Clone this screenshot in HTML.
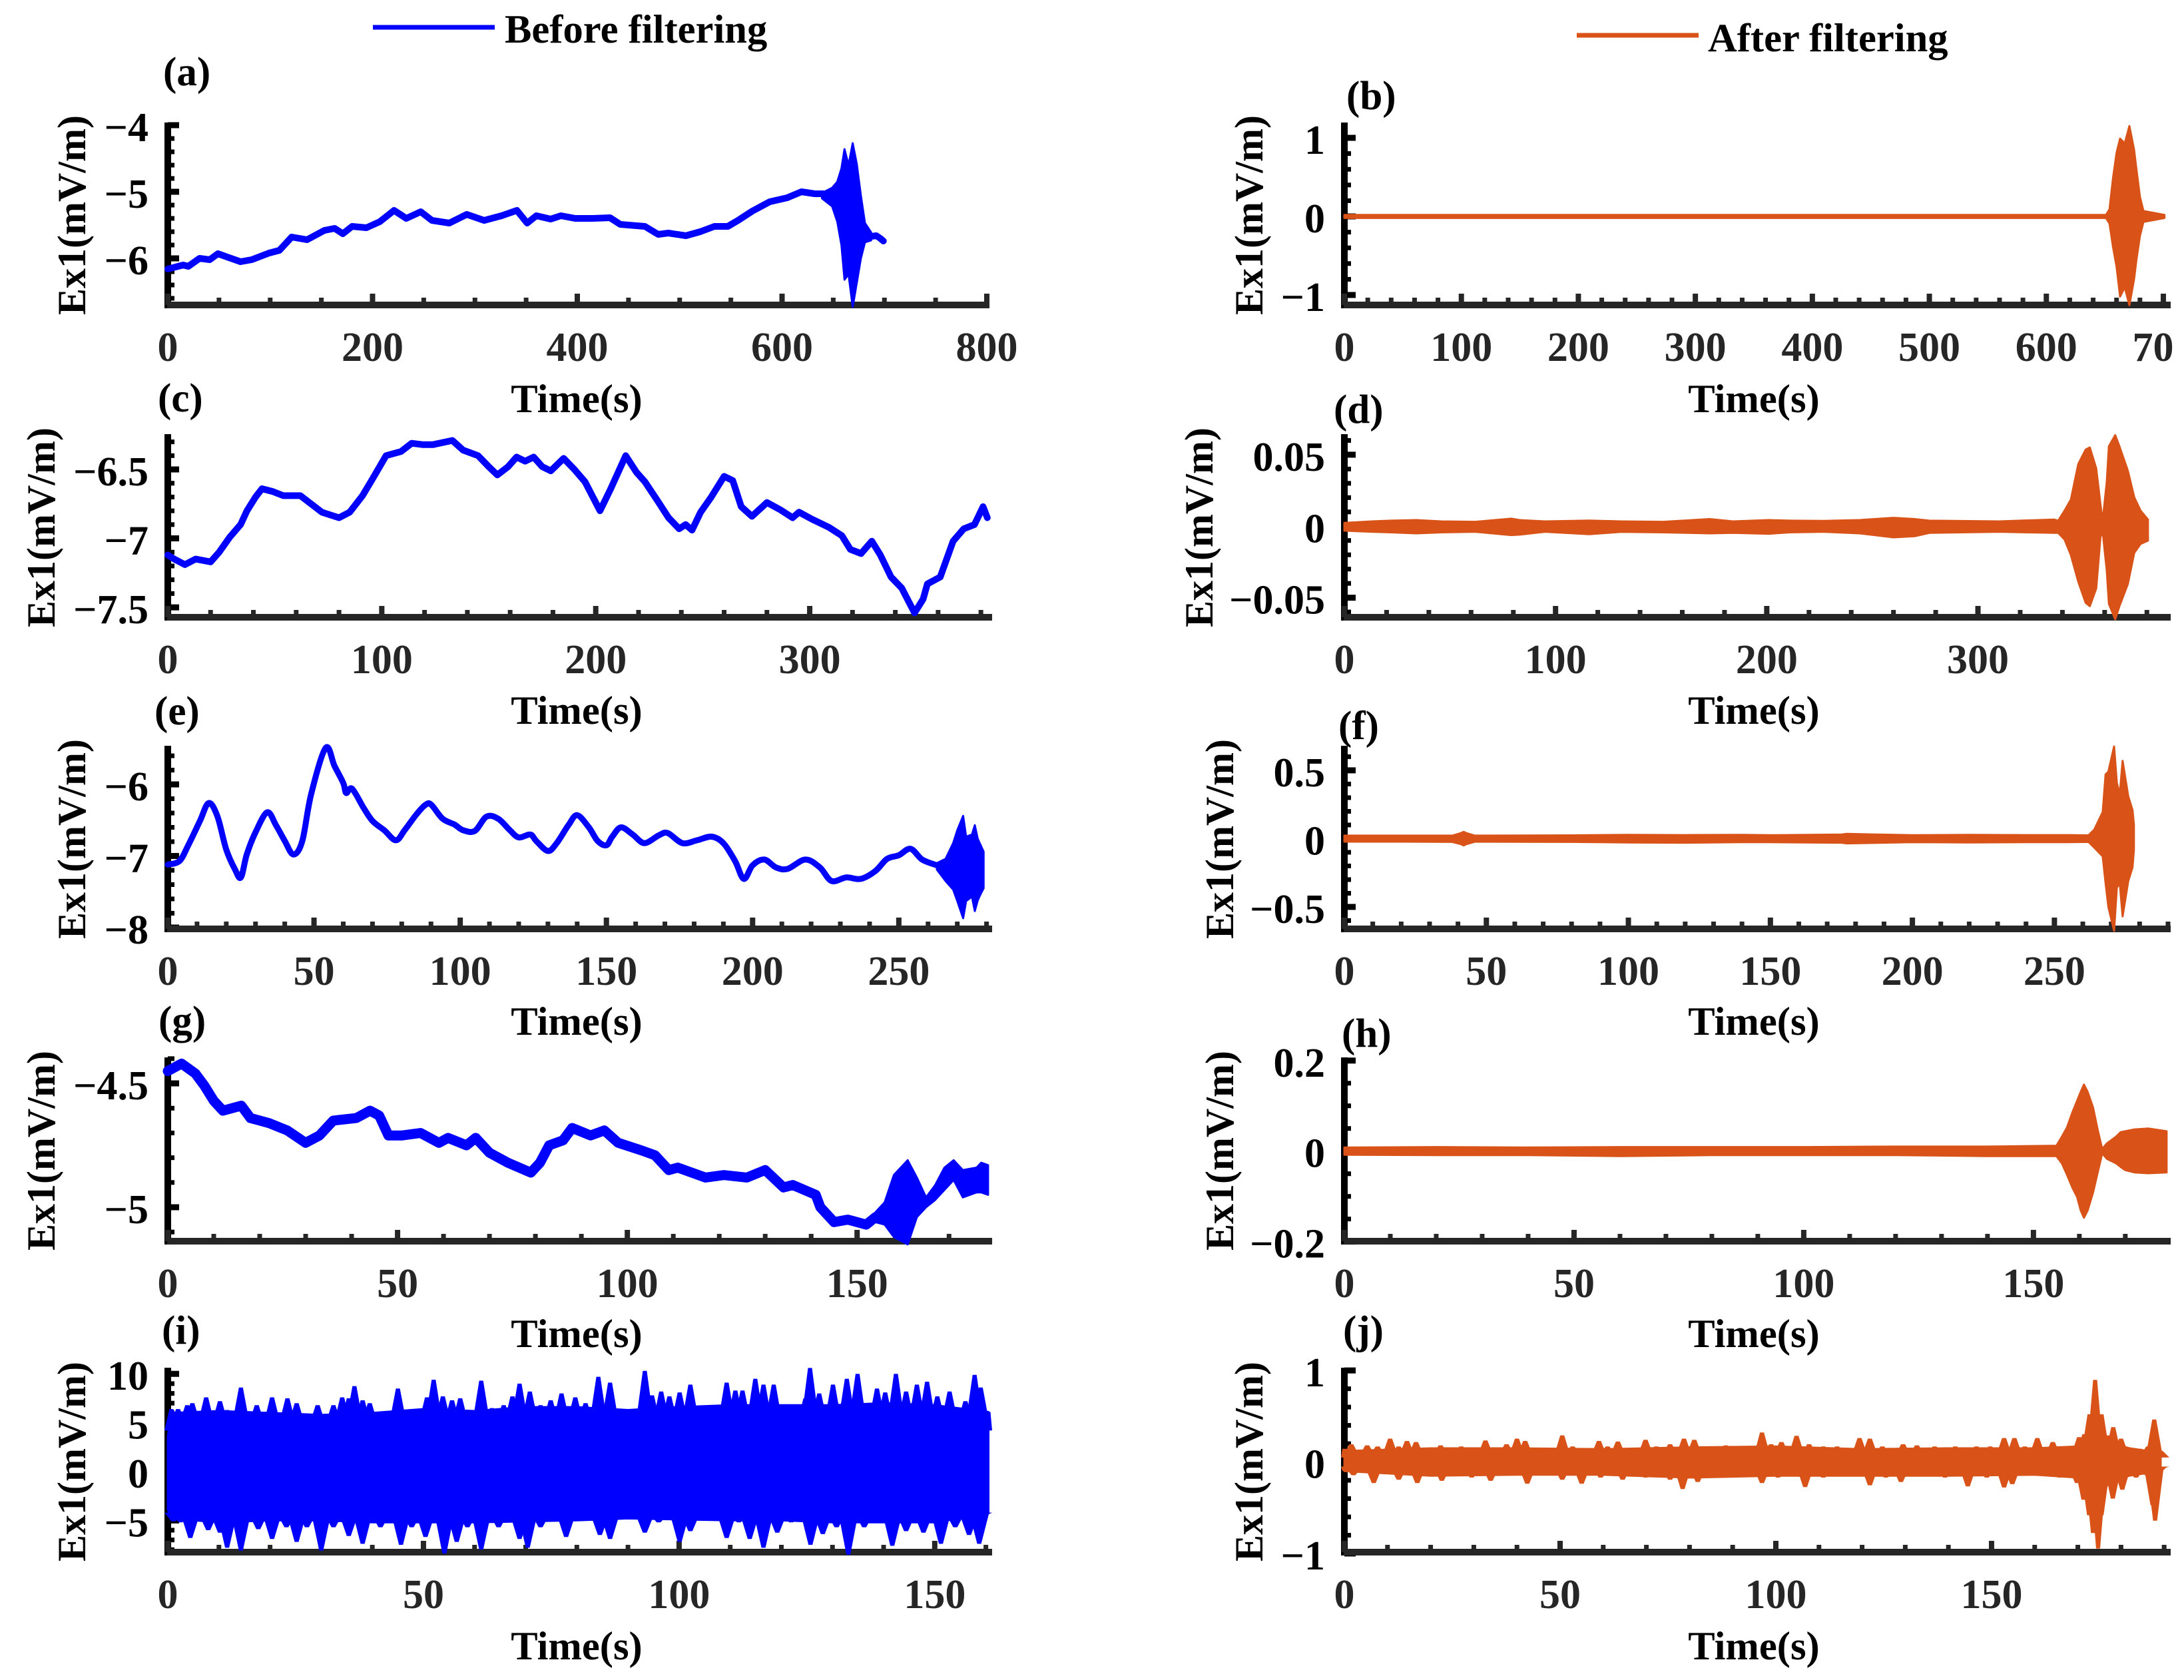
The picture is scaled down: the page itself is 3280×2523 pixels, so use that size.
<!DOCTYPE html>
<html>
<head>
<meta charset="utf-8">
<title>Ex1 before and after filtering</title>
<style>
html,body{margin:0;padding:0;background:#fff;}
body{width:3280px;height:2523px;overflow:hidden;}
svg{display:block;}
text{font-family:"Liberation Serif",serif;font-weight:bold;font-size:60.6px;fill:#000;}
.lab{font-size:61px;}
.tx{text-anchor:middle;fill:#000;}
.yl{text-anchor:middle;font-size:60px;}
.tick{font-size:62px;}
</style>
</head>
<body>
<svg xmlns="http://www.w3.org/2000/svg" width="3280" height="2523" viewBox="0 0 3280 2523">
<defs><clipPath id="right-edge-clip"><rect x="1900" y="0" width="1365" height="2523"/></clipPath></defs>
<rect x="0" y="0" width="3280" height="2523" fill="#fff"/>

<g>
<line x1="560" x2="743" y1="41" y2="41" stroke="#0000FF" stroke-width="7"/>
<text x="758" y="64">Before filtering</text>
</g>
<g>
<line x1="2368" x2="2551" y1="53" y2="53" stroke="#D95319" stroke-width="7"/>
<text x="2565" y="77">After filtering</text>
</g>

<g id="panel-a"></g>
<g id="panel-b"></g>
<g id="panel-c"></g>
<g id="panel-d"></g>
<g id="panel-e"></g>
<g id="panel-f"></g>
<g id="panel-g"></g>
<g id="panel-h"></g>
<g id="panel-i"></g>
<g id="panel-j"></g>

<text class="lab" x="245" y="128">(a)</text>
<text class="lab" x="2022" y="164">(b)</text>
<text class="lab" x="237" y="618">(c)</text>
<text class="lab" x="2003" y="635">(d)</text>
<text class="lab" x="232" y="1088">(e)</text>
<text class="lab" x="2010" y="1110">(f)</text>
<text class="lab" x="238" y="1553">(g)</text>
<text class="lab" x="2015" y="1572">(h)</text>
<text class="lab" x="243" y="2018">(i)</text>
<text class="lab" x="2017" y="2018">(j)</text>

<text class="tx" x="866" y="619">Time(s)</text>
<text class="tx" x="2634" y="619">Time(s)</text>
<text class="tx" x="866" y="1087">Time(s)</text>
<text class="tx" x="2634" y="1087">Time(s)</text>
<text class="tx" x="866" y="1554">Time(s)</text>
<text class="tx" x="2634" y="1554">Time(s)</text>
<text class="tx" x="866" y="2023">Time(s)</text>
<text class="tx" x="2634" y="2023">Time(s)</text>
<text class="tx" x="866" y="2492">Time(s)</text>
<text class="tx" x="2634" y="2492">Time(s)</text>

<text class="yl" transform="translate(128,323) rotate(-90)">Ex1(mV/m)</text>
<text class="yl" transform="translate(1896,323) rotate(-90)">Ex1(mV/m)</text>
<text class="yl" transform="translate(82,792) rotate(-90)">Ex1(mV/m)</text>
<text class="yl" transform="translate(1821,792) rotate(-90)">Ex1(mV/m)</text>
<text class="yl" transform="translate(128,1260) rotate(-90)">Ex1(mV/m)</text>
<text class="yl" transform="translate(1852,1260) rotate(-90)">Ex1(mV/m)</text>
<text class="yl" transform="translate(82,1728) rotate(-90)">Ex1(mV/m)</text>
<text class="yl" transform="translate(1852,1728) rotate(-90)">Ex1(mV/m)</text>
<text class="yl" transform="translate(128,2195) rotate(-90)">Ex1(mV/m)</text>
<text class="yl" transform="translate(1896,2195) rotate(-90)">Ex1(mV/m)</text>
</svg>

<script>
/* ---------- tick values and labels ---------- */
const aXTicks=[0,200,400,600,800];
const aXLabels=['0','200','400','600','800'];
const aYTicks=[-6,-5,-4];
const aYLabels=['−6','−5','−4'];
const bXTicks=[0,100,200,300,400,500,600,700];
const bXLabels=['0','100','200','300','400','500','600','700'];
const bYTicks=[-1,0,1];
const bYLabels=['−1','0','1'];
const cXTicks=[0,100,200,300];
const cXLabels=['0','100','200','300'];
const cYTicks=[-7.5,-7,-6.5];
const cYLabels=['−7.5','−7','−6.5'];
const dXTicks=[0,100,200,300];
const dXLabels=['0','100','200','300'];
const dYTicks=[-0.05,0,0.05];
const dYLabels=['−0.05','0','0.05'];
const eXTicks=[0,50,100,150,200,250];
const eXLabels=['0','50','100','150','200','250'];
const eYTicks=[-8,-7,-6];
const eYLabels=['−8','−7','−6'];
const fXTicks=[0,50,100,150,200,250];
const fXLabels=['0','50','100','150','200','250'];
const fYTicks=[-0.5,0,0.5];
const fYLabels=['−0.5','0','0.5'];
const gXTicks=[0,50,100,150];
const gXLabels=['0','50','100','150'];
const gYTicks=[-5,-4.5];
const gYLabels=['−5','−4.5'];
const hXTicks=[0,50,100,150];
const hXLabels=['0','50','100','150'];
const hYTicks=[-0.2,0,0.2];
const hYLabels=['−0.2','0','0.2'];
const iXTicks=[0,50,100,150];
const iXLabels=['0','50','100','150'];
const iYTicks=[-5,0,5,10];
const iYLabels=['−5','0','5','10'];
const jXTicks=[0,50,100,150];
const jXLabels=['0','50','100','150'];
const jYTicks=[-1,0,1];
const jYLabels=['−1','0','1'];

/* ---------- panel a: trend line and burst envelope ---------- */
const aTime=[0,10,15,20,31,41,49,58,71,82,99,109,121,136,153,163,171,180,194,207,221,233,247,258,275,292,309,326,341,351,360,374,384,398,415,432,442,466,479,489,506,520,534,547,557,571,588,605,619,632,646];
const aValue=[-6.16,-6.12,-6.10,-6.12,-6.00,-6.02,-5.93,-5.98,-6.05,-6.02,-5.92,-5.88,-5.68,-5.72,-5.58,-5.55,-5.63,-5.52,-5.54,-5.45,-5.28,-5.40,-5.30,-5.43,-5.47,-5.34,-5.43,-5.36,-5.28,-5.47,-5.36,-5.41,-5.36,-5.40,-5.40,-5.39,-5.49,-5.52,-5.64,-5.62,-5.66,-5.60,-5.52,-5.52,-5.43,-5.29,-5.15,-5.09,-5.00,-5.03,-5.03];
const aTailTime=[687,692,696,699];
const aTailValue=[-5.67,-5.66,-5.70,-5.74];
const aBurstTime=[639,649,654,658,661,665,669,673,677,681,687];
const aBurstUpper=[-5.02,-4.94,-4.85,-4.65,-4.36,-4.60,-4.27,-4.58,-5.06,-5.47,-5.61];
const aBurstLower=[-5.10,-5.22,-5.45,-5.80,-6.32,-6.24,-6.73,-6.37,-6.00,-5.76,-5.73];

/* ---------- panel b ---------- */
const bTime=[0,651,654,657,660,663,667,671,675,677,680,683,701];
const bUpper=[0.02,0.02,0.09,0.49,0.81,0.99,0.93,1.15,0.85,0.60,0.25,0.07,0.02];
const bLower=[-0.02,-0.02,-0.09,-0.39,-0.64,-1.02,-0.90,-1.13,-0.80,-0.55,-0.25,-0.07,-0.02];

/* ---------- panel c ---------- */
const cTime=[0,3,8,13,20,24,29,34,37,41,44,49,54,62,67,72,80,85,91,96,102,109,114,119,124,133,138,145,150,154,159,163,167,171,175,179,185,190,195,200,202,207,214,219,223,229,234,239,242,245,249,254,260,264,268,273,280,286,292,295,301,309,315,319,324,329,333,338,343,349,353,355,361,367,372,377,381,383];
const cValue=[-7.12,-7.15,-7.19,-7.15,-7.17,-7.10,-6.99,-6.90,-6.80,-6.70,-6.64,-6.66,-6.69,-6.69,-6.75,-6.81,-6.85,-6.81,-6.69,-6.56,-6.40,-6.37,-6.31,-6.32,-6.32,-6.29,-6.36,-6.40,-6.48,-6.54,-6.48,-6.41,-6.44,-6.41,-6.48,-6.51,-6.42,-6.50,-6.59,-6.74,-6.80,-6.64,-6.40,-6.52,-6.59,-6.73,-6.85,-6.93,-6.90,-6.94,-6.81,-6.70,-6.55,-6.58,-6.77,-6.84,-6.74,-6.79,-6.85,-6.81,-6.86,-6.92,-6.98,-7.08,-7.11,-7.02,-7.12,-7.28,-7.36,-7.54,-7.44,-7.33,-7.28,-7.02,-6.93,-6.90,-6.77,-6.85];

/* ---------- panel d ---------- */
const dTime=[0,13,22,34,46,62,79,83,95,116,131,151,173,184,201,211,227,244,260,270,277,310,336,338,341,344,347.5,351,353,356,358,359,361,362,365,367,371,374,377,380.5];
const dUpper=[0.0023,0.0034,0.0039,0.0043,0.0034,0.0031,0.0053,0.0043,0.0034,0.0040,0.0034,0.0031,0.0050,0.0034,0.0043,0.0039,0.0037,0.0043,0.0059,0.0050,0.0039,0.0034,0.0047,0.0039,0.0109,0.0186,0.0435,0.0536,0.0551,0.0404,0.0155,0.0031,0.0311,0.0559,0.0637,0.0559,0.0388,0.0202,0.0109,0.0047];
const dLower=[-0.0031,-0.0039,-0.0043,-0.0050,-0.0043,-0.0039,-0.0062,-0.0059,-0.0039,-0.0056,-0.0040,-0.0043,-0.0050,-0.0047,-0.0053,-0.0043,-0.0039,-0.0050,-0.0078,-0.0070,-0.0047,-0.0039,-0.0047,-0.0047,-0.0093,-0.0202,-0.0388,-0.0536,-0.0559,-0.0435,-0.0078,-0.0031,-0.0311,-0.0543,-0.0652,-0.0559,-0.0404,-0.0186,-0.0124,-0.0101];

/* ---------- panel e ---------- */
const eTime=[0,4,7,11,14,17,20,23,25,27,30,34,37,40,43,46,49,54,57,60,61,63,67,70,74,78,81,85,88,90,94,98,101,105,109,113,117,120,124,126,130,133,137,140,144,147,150,152,155,159,163,168,171,176,181,186,190,194,197,200,204,208,212,218,223,227,232,237,242,246,250,254,258,263];
const eValue=[-7.12,-7.07,-6.85,-6.51,-6.26,-6.45,-6.91,-7.19,-7.30,-6.98,-6.67,-6.39,-6.57,-6.79,-6.98,-6.79,-6.14,-5.49,-5.74,-5.98,-6.12,-6.06,-6.33,-6.51,-6.64,-6.78,-6.64,-6.42,-6.29,-6.28,-6.48,-6.56,-6.64,-6.65,-6.45,-6.48,-6.64,-6.74,-6.70,-6.79,-6.93,-6.82,-6.57,-6.43,-6.60,-6.79,-6.85,-6.73,-6.60,-6.70,-6.82,-6.71,-6.68,-6.82,-6.78,-6.73,-6.82,-7.07,-7.32,-7.13,-7.05,-7.16,-7.18,-7.05,-7.16,-7.35,-7.30,-7.32,-7.21,-7.04,-6.99,-6.90,-7.05,-7.13];
const eBurstTime=[263,266,268.6,270,272,273,275,276,277,278,279];
const eBurstUpper=[-7.10,-7.04,-6.82,-6.64,-6.44,-6.73,-6.70,-6.57,-6.76,-6.85,-6.94];
const eBurstLower=[-7.19,-7.35,-7.47,-7.63,-7.87,-7.63,-7.57,-7.77,-7.62,-7.53,-7.45];

/* ---------- panel f ---------- */
const fTime=[0,20,38,41,42,43,46,80,100,120,140,150,175,177,200,220,240,255,262,264,267,268,269,271,272,273,274,276,277.5,278];
const fUpper=[0.022,0.022,0.022,0.04,0.05,0.04,0.022,0.024,0.028,0.026,0.028,0.025,0.03,0.035,0.025,0.028,0.026,0.026,0.024,0.065,0.195,0.47,0.49,0.675,0.407,0.325,0.57,0.31,0.21,0.10];
const fLower=[-0.022,-0.022,-0.024,-0.04,-0.05,-0.04,-0.022,-0.024,-0.028,-0.03,-0.026,-0.026,-0.03,-0.035,-0.026,-0.028,-0.026,-0.026,-0.024,-0.065,-0.13,-0.325,-0.50,-0.675,-0.358,-0.325,-0.57,-0.31,-0.21,-0.08];

/* ---------- panel g ---------- */
const gTime=[0,3,6,8,10,12,16,18,22,26,30,33,36,41,44,46,48,51,55,59,61,65,67,70,74,79,81,83,86,88,92,95,98,103,106,109,111,117,121,126,130,134,136,141,142,145,148,152,154];
const gValue=[-4.45,-4.42,-4.46,-4.51,-4.57,-4.61,-4.59,-4.64,-4.66,-4.69,-4.74,-4.71,-4.65,-4.64,-4.61,-4.63,-4.71,-4.71,-4.70,-4.74,-4.72,-4.75,-4.72,-4.78,-4.82,-4.86,-4.82,-4.75,-4.73,-4.68,-4.71,-4.69,-4.74,-4.77,-4.79,-4.85,-4.84,-4.88,-4.87,-4.88,-4.85,-4.92,-4.91,-4.95,-5.00,-5.06,-5.05,-5.07,-5.04];
const gBurstTime=[154,156,158,161,163,165,167,169,171,173,176,177,178.5];
const gBurstUpper=[-5.02,-4.98,-4.87,-4.81,-4.88,-4.96,-4.91,-4.84,-4.81,-4.85,-4.84,-4.82,-4.83];
const gBurstLower=[-5.06,-5.07,-5.12,-5.15,-5.04,-5.00,-4.97,-4.93,-4.89,-4.96,-4.94,-4.94,-4.95];

/* ---------- panel h ---------- */
const hTime=[0,20,40,60,80,100,120,140,155,156.2,157.3,158.5,159.5,160.3,161,161.8,163,164,164.8,165,166,168,169,170,172,175,179];
const hUpper=[0.008,0.009,0.008,0.009,0.009,0.009,0.010,0.010,0.012,0.032,0.052,0.086,0.111,0.131,0.147,0.131,0.096,0.047,0.012,0.005,0.017,0.032,0.042,0.044,0.048,0.05,0.044];
const hLower=[-0.008,-0.009,-0.009,-0.011,-0.009,-0.009,-0.009,-0.011,-0.011,-0.027,-0.052,-0.081,-0.101,-0.131,-0.147,-0.131,-0.091,-0.047,-0.012,-0.005,-0.017,-0.027,-0.035,-0.042,-0.047,-0.049,-0.047];

/* ---------- panel i: dense core plus individual spikes ---------- */
const iBaseTime=[0,0.7,10,20,30,40,50,60,70,80,90,100,110,120,130,140,150,160.5];
const iBaseUpper=[3.6,6,6.2,6,5.8,6,6.4,6.2,6.6,6.6,6.3,6.6,6.8,6.8,6.8,7,6.8,6.1];
const iBaseLower=[-3.9,-4.8,-5.2,-5,-5,-5.2,-5.2,-5.2,-5.1,-5,-4.8,-4.9,-5,-5,-5.2,-5.2,-5.2,-4.3];
const iUpperTime=[0,0.7,2,3,3.8,4.8,6.1,7.5,8.9,10.2,11.6,14.3,15.3,16.3,17.4,18.8,20.4,21.8,23.4,25.2,27.2,29.3,31.3,32.4,34.1,35.4,36.5,38.1,39.5,41.6,43.2,45,47,48.4,50.7,52,53.8,55.6,57.2,58.6,61.3,63.4,65.7,67.4,68.8,70.8,72.9,74.9,77,79.7,81.7,84.2,86.5,87.9,90.6,93.3,94.7,96.5,98.1,100.1,102.2,104.2,106.3,109.3,111,112.4,114.9,116.5,118.5,120.6,122.6,124.7,125.6,127.4,130.1,132.8,134.9,136.9,138.7,140.3,142.4,144.4,146.5,148.5,150.5,152.9,156,157.8,159,160.5];
const iUpperValue=[3.6,6.4,6.4,5.2,6.8,7.0,5.9,7.6,6.1,7.2,6.3,8.6,5.5,5.2,6.8,5.9,7.6,5.9,7.5,7.0,5.9,6.8,5.9,6.8,7.6,7.5,8.75,7.3,7.0,5.9,5.0,8.5,5.3,5.5,7.6,9.4,7.7,7.3,7.5,5.9,9.3,6.5,6.8,7.7,9.0,8.2,6.8,7.3,8.0,7.6,7.0,9.7,9.1,6.1,6.25,10.3,7.8,8.2,7.7,8.1,8.9,5.8,6.5,9.1,8.3,8.3,9.5,8.9,8.9,6.6,6.5,7.5,10.6,8.0,8.9,9.5,10.0,6.8,8.5,8.1,10,8.2,8.9,9.2,7.7,8.2,7.2,9.9,8.6,6.1];
const iLowerTime=[0,1.1,2.5,4.4,6.1,7.9,10.2,11.6,14.3,15.3,17.7,20.4,23.2,25.2,27.2,30,32.4,35.4,38.1,41.6,45.6,47.7,50.4,54.1,56.5,58.6,61.3,64.7,68.8,70.4,72.9,77.9,81.1,84.5,86.5,90.6,93.3,96,100.1,102.2,104.9,109.3,111.7,113.8,116.5,119.2,121.9,125.7,128.1,130.8,133.1,136.2,141.7,144.4,147.8,151.2,154,156.7,158.7,160.5];
const iLowerValue=[-3.9,-5.1,-5.2,-6.8,-5.1,-6.0,-6.25,-7.8,-8.1,-4.5,-5.9,-6.9,-5.7,-7.2,-5.7,-8.1,-5.7,-6.6,-7.4,-5.7,-7.5,-5.7,-6.7,-8.4,-7.2,-5.7,-8.0,-5.7,-6.9,-7.8,-5.7,-6.7,-4.8,-6.5,-6.9,-4.3,-6.25,-5.2,-7.2,-6.1,-4.7,-6.8,-5.2,-6.9,-7.8,-6.25,-5.2,-7.5,-6.4,-5.7,-8.5,-5.7,-7.6,-6.1,-6.25,-7.4,-5.7,-6.5,-7.4,-4.3];

/* ---------- panel j: dense core plus individual spikes ---------- */
const jBaseTime=[0,20,40,60,80,100,120,140,160,170,172,174,176,178,182,189.2];
const jBaseUpper=[0.12,0.15,0.15,0.14,0.16,0.17,0.14,0.15,0.15,0.17,0.3,0.4,0.25,0.2,0.15,0.1];
const jBaseLower=[-0.1,-0.15,-0.14,-0.14,-0.17,-0.15,-0.15,-0.15,-0.14,-0.17,-0.3,-0.35,-0.25,-0.2,-0.15,-0.1];
const jUpperTime=[0,1.6,3.7,5.3,7.7,10.6,12.6,14.5,16.6,19,22.3,24.7,27.1,29.5,32.7,35.2,37.6,40,41.9,44.8,48.1,50.5,52.9,55.3,59,61,63.4,66.6,69.8,72.3,75.5,78.7,81.1,84.4,88.4,91.6,96.8,98.9,101.3,104.8,107.7,111,114.2,116.6,119.4,121.8,124.7,129.5,132.7,136.8,141.6,146.5,149.7,152.9,155.3,157.7,160.6,164.2,167.4,170.3,171.5,172.7,174,175.5,176.8,178.2,180,181.9,184.4,186.3,187.7,188.4,189.2];
const jUpperValue=[0.145,0.194,0.097,0.182,0.17,0.255,0.17,0.23,0.218,0.145,0.182,0.133,0.17,0.145,0.235,0.133,0.194,0.255,0.23,0.145,0.145,0.291,0.17,0.145,0.23,0.17,0.223,0.121,0.242,0.17,0.194,0.255,0.242,0.17,0.182,0.145,0.322,0.194,0.218,0.286,0.194,0.17,0.17,0.073,0.262,0.255,0.17,0.194,0.182,0.17,0.17,0.17,0.17,0.262,0.262,0.17,0.262,0.218,0.17,0.272,0.303,0.521,0.897,0.521,0.291,0.381,0.255,0.158,0.145,0.17,0.465,0.17,0.121];
const jLowerTime=[0,2.1,6.8,9.4,12.6,16.9,19,22.6,25.5,29.5,33.9,37.6,42.4,46.5,50.5,55,59.4,64.5,69.8,75.5,78.4,81.9,86.8,92.4,96.8,100.5,106.8,111,116.6,121.8,125.5,129,135.2,139.2,144.5,148.9,152.9,154.8,158.5,165.8,169.8,171.3,172.6,173.5,174.7,175.5,176.5,178.1,180.3,183.5,186,187.3,187.9,188.7,189.2];
const jLowerValue=[-0.097,-0.145,-0.23,-0.097,-0.194,-0.23,-0.121,-0.206,-0.121,-0.17,-0.206,-0.121,-0.238,-0.121,-0.194,-0.238,-0.17,-0.194,-0.17,-0.194,-0.296,-0.218,-0.121,-0.145,-0.23,-0.17,-0.274,-0.17,-0.145,-0.255,-0.17,-0.218,-0.121,-0.17,-0.267,-0.17,-0.279,-0.242,-0.145,-0.17,-0.23,-0.412,-0.582,-0.776,-0.946,-0.582,-0.267,-0.4,-0.303,-0.17,-0.145,-0.473,-0.642,-0.121,-0.073];

/* ---------- layout, kept apart from the data ---------- */
const BLUE='#0000FF', ORANGE='#D95319';
const panels=[
 {id:'a',box:[252,1482,184,458],xDom:[0,800],yDom:[-3.96,-6.70],xMinor:50,yMinor:0.2,xTicks:aXTicks,xLabels:aXLabels,yTicks:aYTicks,yLabels:aYLabels,color:BLUE,lineW:10,
  lines:[[aTime,aValue],[aTailTime,aTailValue]],bands:[[aBurstTime,aBurstUpper,aBurstTime,aBurstLower]],spikes:[]},
 {id:'b',box:[2019,3256,184,458],xDom:[0,704],yDom:[1.195,-1.127],xMinor:20,yMinor:0.2,xTicks:bXTicks,xLabels:bXLabels,yTicks:bYTicks,yLabels:bYLabels,color:ORANGE,clipLast:true,
  lines:[],bands:[[bTime,bUpper,bTime,bLower]],spikes:[]},
 {id:'c',box:[252,1486,652,927],xDom:[0,384],yDom:[-6.244,-7.572],xMinor:20,yMinor:0.1,xTicks:cXTicks,xLabels:cXLabels,yTicks:cYTicks,yLabels:cYLabels,color:BLUE,lineW:10,
  lines:[[cTime,cValue]],bands:[],spikes:[]},
 {id:'d',box:[2019,3256,652,927],xDom:[0,390],yDom:[0.0644,-0.0637],xMinor:20,yMinor:0.01,xTicks:dXTicks,xLabels:dXLabels,yTicks:dYTicks,yLabels:dYLabels,color:ORANGE,
  lines:[],bands:[[dTime,dUpper,dTime,dLower]],spikes:[]},
 {id:'e',box:[252,1486,1120,1395],xDom:[0,281],yDom:[-5.46,-8.019],xMinor:10,yMinor:0.2,xTicks:eXTicks,xLabels:eXLabels,yTicks:eYTicks,yLabels:eYLabels,color:BLUE,lineW:9,smooth:true,
  lines:[[eTime,eValue]],bands:[[eBurstTime,eBurstUpper,eBurstTime,eBurstLower]],spikes:[]},
 {id:'f',box:[2019,3256,1120,1395],xDom:[0,290],yDom:[0.68,-0.661],xMinor:10,yMinor:0.1,xTicks:fXTicks,xLabels:fXLabels,yTicks:fYTicks,yLabels:fYLabels,color:ORANGE,
  lines:[],bands:[[fTime,fUpper,fTime,fLower]],spikes:[]},
 {id:'g',box:[252,1486,1588,1864],xDom:[0,178.8],yDom:[-4.395,-5.137],xMinor:10,yMinor:0.1,xTicks:gXTicks,xLabels:gXLabels,yTicks:gYTicks,yLabels:gYLabels,color:BLUE,lineW:15,
  lines:[[gTime,gValue]],bands:[[gBurstTime,gBurstUpper,gBurstTime,gBurstLower]],spikes:[]},
 {id:'h',box:[2019,3256,1588,1864],xDom:[0,179.3],yDom:[0.207,-0.199],xMinor:10,yMinor:0.05,xTicks:hXTicks,xLabels:hXLabels,yTicks:hYTicks,yLabels:hYLabels,color:ORANGE,
  lines:[],bands:[[hTime,hUpper,hTime,hLower]],spikes:[]},
 {id:'i',box:[252,1486,2054,2331],xDom:[0,160.7],yDom:[10.63,-8.25],xMinor:10,yMinor:1,xTicks:iXTicks,xLabels:iXLabels,yTicks:iYTicks,yLabels:iYLabels,color:BLUE,spikeFoot:4.2,spikeFootW:15,spikeTipW:3,
  lines:[],bands:[[iBaseTime,iBaseUpper,iBaseTime,iBaseLower]],spikes:[[iUpperTime,iUpperValue],[iLowerTime,iLowerValue]]},
 {id:'j',box:[2019,3256,2054,2331],xDom:[0,190.9],yDom:[1.03,-0.985],xMinor:10,yMinor:0.2,xTicks:jXTicks,xLabels:jXLabels,yTicks:jYTicks,yLabels:jYLabels,color:ORANGE,spikeFoot:0.05,spikeFootW:13,spikeTipW:3,
  lines:[],bands:[[jBaseTime,jBaseUpper,jBaseTime,jBaseLower]],spikes:[[jUpperTime,jUpperValue],[jLowerTime,jLowerValue]]}
];

const NS='http://www.w3.org/2000/svg';
function make(tag,parent,attrs){
  const el=document.createElementNS(NS,tag);
  for(const k in attrs){el.setAttribute(k,attrs[k]);}
  parent.appendChild(el);
  return el;
}
function minorValues(dom,step,majors){
  const lo=Math.min(dom[0],dom[1]),hi=Math.max(dom[0],dom[1]);
  const out=[];
  for(let k=Math.ceil(lo/step-1e-6);k<=Math.floor(hi/step+1e-6);k++){
    const v=k*step;
    if(!majors.some(function(m){return Math.abs(m-v)<step/100;})){out.push(v);}
  }
  return out;
}
function smoothPath(pts){
  let d='M'+pts[0][0].toFixed(1)+','+pts[0][1].toFixed(1);
  for(let i=0;i<pts.length-1;i++){
    const p0=pts[Math.max(i-1,0)],p1=pts[i],p2=pts[i+1],p3=pts[Math.min(i+2,pts.length-1)];
    const c1x=p1[0]+(p2[0]-p0[0])/6,c1y=p1[1]+(p2[1]-p0[1])/6;
    const c2x=p2[0]-(p3[0]-p1[0])/6,c2y=p2[1]-(p3[1]-p1[1])/6;
    d+=' C'+c1x.toFixed(1)+','+c1y.toFixed(1)+' '+c2x.toFixed(1)+','+c2y.toFixed(1)+' '+p2[0].toFixed(1)+','+p2[1].toFixed(1);
  }
  return d;
}
panels.forEach(function(p){
  const g=document.getElementById('panel-'+p.id);
  const X0=p.box[0],X1=p.box[1],Y0=p.box[2],Y1=p.box[3];
  const xScale=function(t){return X0+(t-p.xDom[0])*(X1-X0)/(p.xDom[1]-p.xDom[0]);};
  const yScale=function(v){return Y0+(v-p.yDom[0])*(Y1-Y0)/(p.yDom[1]-p.yDom[0]);};
  const AX='#262626';

  /* y axis */
  const yLine=make('line',g,{x1:X0,x2:X0,y1:Y0,y2:Y1+5,stroke:'#000','stroke-width':10});
  
  
  minorValues(p.yDom,p.yMinor,p.yTicks).forEach(function(v){
    const t=make('line',g,{x1:X0,x2:X0+10,y1:yScale(v),y2:yScale(v),stroke:'#000','stroke-width':7});
    
    
  });
  p.yTicks.forEach(function(v,i){
    const t=make('line',g,{x1:X0,x2:X0+17,y1:yScale(v),y2:yScale(v),stroke:'#000','stroke-width':9});
    
    
    const tx=make('text',g,{x:X0-29,y:yScale(v)+24,'text-anchor':'end','class':'tick'});
    tx.textContent=p.yLabels[i];
    
    
  });

  /* x axis */
  const xLine=make('line',g,{x1:X0-1,x2:X1+4,y1:Y1,y2:Y1,stroke:AX,'stroke-width':10});
  
  
  minorValues(p.xDom,p.xMinor,p.xTicks).forEach(function(v){
    const t=make('line',g,{x1:xScale(v),x2:xScale(v),y1:Y1,y2:Y1-11,stroke:AX,'stroke-width':7});
    
    
  });
  p.xTicks.forEach(function(v,i){
    const t=make('line',g,{x1:xScale(v),x2:xScale(v),y1:Y1,y2:Y1-17,stroke:AX,'stroke-width':8});
    
    
    const tx=make('text',g,{x:xScale(v),y:Y1+84,'text-anchor':'middle','class':'tick',style:'fill:#262626'});
    tx.textContent=p.xLabels[i];
    
    
    if(p.clipLast && i===p.xTicks.length-1){tx.setAttribute('clip-path','url(#right-edge-clip)');}
  });

  /* series */
  p.bands.forEach(function(b){
    const up=b[0].map(function(t,i){return xScale(t).toFixed(1)+','+yScale(b[1][i]).toFixed(1);});
    const lo=b[2].map(function(t,i){return xScale(t).toFixed(1)+','+yScale(b[3][i]).toFixed(1);}).reverse();
    const band=make('polygon',g,{points:up.concat(lo).join(' '),fill:p.color,stroke:p.color,'stroke-width':3,'stroke-linejoin':'round'});
    
    
  });
  p.spikes.forEach(function(s){
    s[0].forEach(function(t,i){
      const v=s[1][i];
      if(Math.abs(v)<=p.spikeFoot){return;}
      const foot=yScale(v>0?p.spikeFoot:-p.spikeFoot);
      const cx=xScale(t);
      const tip=yScale(v);
      const a=Math.max(cx-p.spikeFootW,X0-5);
      const b=Math.min(cx+p.spikeFootW,X1+4);
      const pts=[[a,foot],[cx-p.spikeTipW,tip],[cx+p.spikeTipW,tip],[b,foot]];
      const sp=make('polygon',g,{points:pts.map(function(q){return q[0].toFixed(1)+','+q[1].toFixed(1);}).join(' '),fill:p.color});
      
      
    });
  });
  p.lines.forEach(function(l){
    const pts=l[0].map(function(t,i){return [xScale(t),yScale(l[1][i])];});
    let line;
    if(p.smooth){
      line=make('path',g,{d:smoothPath(pts),fill:'none',stroke:p.color,'stroke-width':p.lineW,'stroke-linejoin':'round','stroke-linecap':'round'});
    }else{
      line=make('polyline',g,{points:pts.map(function(q){return q[0].toFixed(1)+','+q[1].toFixed(1);}).join(' '),fill:'none',stroke:p.color,'stroke-width':p.lineW,'stroke-linejoin':'round','stroke-linecap':'round'});
    }
    
    
  });
});
</script>
</body>
</html>
